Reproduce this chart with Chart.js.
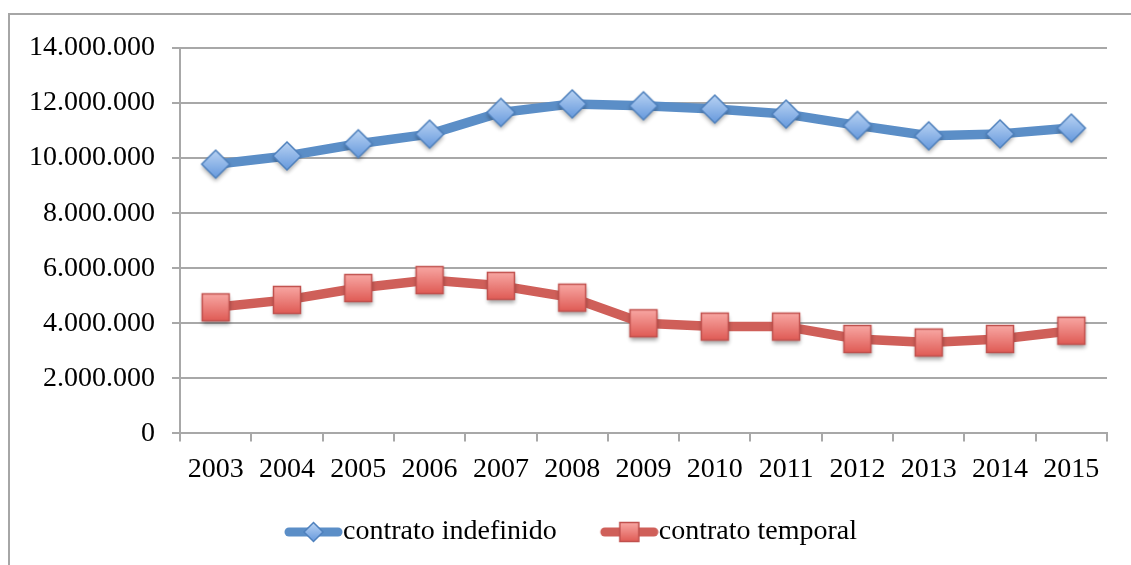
<!DOCTYPE html>
<html>
<head>
<meta charset="utf-8">
<script src="https://cdn.jsdelivr.net/npm/chart.js@4.4.0/dist/chart.umd.min.js"></script>
<style>
  html, body { margin: 0; padding: 0; background: #fff; }
  #wrap { position: relative; width: 1131px; height: 565px; overflow: hidden; }
  #frame { position: absolute; left: 8px; top: 13px; width: 1200px; height: 620px;
           border: 2px solid #a6a6a6; box-sizing: border-box; }
  #c { position: absolute; left: 0; top: 0; }
</style>
</head>
<body>
<div id="wrap">
  <div id="frame"></div>
  <canvas id="c" width="1131" height="565"></canvas>
</div>
<script>
const years = ['2003','2004','2005','2006','2007','2008','2009','2010','2011','2012','2013','2014','2015'];
const indefinido = [9780000, 10080000, 10520000, 10870000, 11660000, 11970000, 11900000, 11780000, 11600000, 11190000, 10810000, 10880000, 11090000];
const temporal = [4580000, 4850000, 5280000, 5570000, 5360000, 4930000, 4000000, 3880000, 3880000, 3430000, 3300000, 3430000, 3730000];
const seriesNames = ['contrato indefinido', 'contrato temporal'];

const blue = '#5b8ec7';
const red = '#cf5f59';
const gridGray = '#a8a8a8';
const fontFamily = "'Liberation Serif', 'Times New Roman', serif";

// dotted thousands, like 14.000.000
function fmt(v) {
  return String(Math.round(v)).replace(/\B(?=(\d{3})+(?!\d))/g, '.');
}

function drawDiamond(g, cx, cy, r, shadow) {
  if (shadow) {
    g.shadowColor = 'rgba(0,0,0,0.35)'; g.shadowBlur = 4; g.shadowOffsetY = 3;
  }
  g.beginPath();
  g.moveTo(cx, cy - r); g.lineTo(cx + r, cy); g.lineTo(cx, cy + r); g.lineTo(cx - r, cy);
  g.closePath();
  const gr = g.createLinearGradient(0, cy - r, 0, cy + r);
  gr.addColorStop(0, '#b9d3f3');
  gr.addColorStop(1, '#6699dd');
  g.fillStyle = gr; g.fill();
  g.shadowColor = 'transparent';
  g.strokeStyle = '#4f81bd'; g.lineWidth = 1.5; g.stroke();
}

function drawSquare(g, cx, cy, r, shadow) {
  if (shadow) {
    g.shadowColor = 'rgba(0,0,0,0.35)'; g.shadowBlur = 4; g.shadowOffsetY = 3;
  }
  const gr = g.createLinearGradient(0, cy - r, 0, cy + r);
  gr.addColorStop(0, '#f8a7a3');
  gr.addColorStop(1, '#df5b55');
  g.fillStyle = gr;
  g.fillRect(cx - r, cy - r, 2 * r, 2 * r);
  g.shadowColor = 'transparent';
  g.strokeStyle = '#c0504d'; g.lineWidth = 1.5;
  g.strokeRect(cx - r, cy - r, 2 * r, 2 * r);
}

function markerImg(kind) {
  const c = document.createElement('canvas');
  c.width = 44; c.height = 44;
  const g = c.getContext('2d');
  if (kind === 'diamond') drawDiamond(g, 22, 22, 14, true);
  else drawSquare(g, 22, 22, 13.5, true);
  return c;
}

// legend swatch: transparent gap on the left, then line with marker
function legendImg(kind, color) {
  const gap = 36, len = 59;
  const c = document.createElement('canvas');
  c.width = gap + len; c.height = 26;
  const g = c.getContext('2d');
  g.strokeStyle = color; g.lineWidth = 9; g.lineCap = 'round';
  g.beginPath(); g.moveTo(gap + 5, 13); g.lineTo(gap + len - 5, 13); g.stroke();
  const cx = gap + len / 2;
  if (kind === 'diamond') drawDiamond(g, cx, 13, 9.5, false);
  else drawSquare(g, cx, 13, 9.5, false);
  return c;
}

const legendImgs = [legendImg('diamond', blue), legendImg('square', red)];

new Chart(document.getElementById('c'), {
  type: 'line',
  data: {
    labels: years,
    datasets: [
      {
        label: seriesNames[0],
        data: indefinido,
        borderColor: blue,
        borderWidth: 9.5,
        pointStyle: markerImg('diamond'),
        pointRadius: 13,
        tension: 0,
        borderJoinStyle: 'round'
      },
      {
        label: seriesNames[1],
        data: temporal,
        borderColor: red,
        borderWidth: 9.5,
        pointStyle: markerImg('square'),
        pointRadius: 13,
        tension: 0,
        borderJoinStyle: 'round'
      }
    ]
  },
  options: {
    responsive: false,
    animation: false,
    layout: { padding: { left: 12, right: 24, top: 48, bottom: 9 } },
    font: { family: fontFamily, size: 28 },
    plugins: {
      tooltip: { enabled: false },
      legend: {
        position: 'bottom',
        labels: {
          usePointStyle: true,
          pointStyleWidth: 67,
          padding: 21,
          color: '#000',
          font: { family: fontFamily, size: 28 },
          generateLabels: (chart) => chart.data.datasets.map((ds, i) => ({
            text: ds.label,
            pointStyle: legendImgs[i],
            datasetIndex: i,
            hidden: false,
            fillStyle: 'transparent',
            strokeStyle: 'transparent',
            lineWidth: 0,
            fontColor: '#000'
          }))
        }
      }
    },
    scales: {
      x: {
        offset: true,
        grid: { drawOnChartArea: false, drawTicks: true, tickLength: 8, color: gridGray, lineWidth: 2, offset: true },
        border: { display: true, color: gridGray, width: 2 },
        ticks: { color: '#000', padding: 11, maxRotation: 0, font: { family: fontFamily, size: 28 } }
      },
      y: {
        min: 0,
        max: 14000000,
        grid: { color: gridGray, lineWidth: 2, tickLength: 8 },
        border: { display: true, color: gridGray, width: 2 },
        ticks: {
          stepSize: 2000000,
          color: '#000',
          padding: 17,
          font: { family: fontFamily, size: 28 },
          callback: (v) => fmt(v)
        }
      }
    }
  }
});
</script>
</body>
</html>
